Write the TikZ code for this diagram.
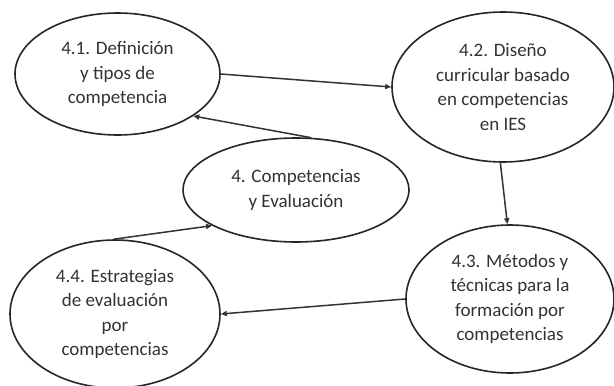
\documentclass[tikz,border=0pt]{standalone}
\usepackage{fontspec}
\setmainfont{Carlito}
\usetikzlibrary{shapes.geometric,arrows.meta}
\tikzset{
  topic/.style={ellipse, draw=black!85, line width=1.6pt, inner sep=0pt,
    align=center, text=black!80, font=\fontsize{19}{24.5}\selectfont},
  link/.style={draw=black!80, line width=1.5pt, -{Triangle[length=6pt,width=5pt]}}
}
\begin{document}
\begin{tikzpicture}[x=1pt,y=-1pt]
\useasboundingbox[fill=white] (0,0) rectangle (614,386);
\node[topic, minimum width=205pt, minimum height=122pt] (d41) at (117.5,74)
  {4.1. Definición\\y tipos de\\competencia};
\node[topic, minimum width=222pt, minimum height=150pt] (d42) at (503,87)
  {4.2. Diseño\\curricular basado\\en competencias\\en IES};
\node[topic, minimum width=226pt, minimum height=104pt] (d4) at (296,190)
  {4. Competencias\\y Evaluación};
\node[topic, minimum width=208pt, minimum height=148pt] (d43) at (510,299)
  {4.3. Métodos y\\técnicas para la\\formación por\\competencias};
\node[topic, minimum width=210pt, minimum height=148pt] (d44) at (115,314)
  {4.4. Estrategias\\de evaluación\\por\\competencias};
\draw[link] (d41.0) -- (d42.180);
\draw[link] (d42.268) -- (d43.92);
\draw[link] (d43.180) -- (d44.0);
\draw[link] (d44.91) -- (d4.203);
\draw[link] (d4.74) -- (d41.331);
\end{tikzpicture}
\end{document}
